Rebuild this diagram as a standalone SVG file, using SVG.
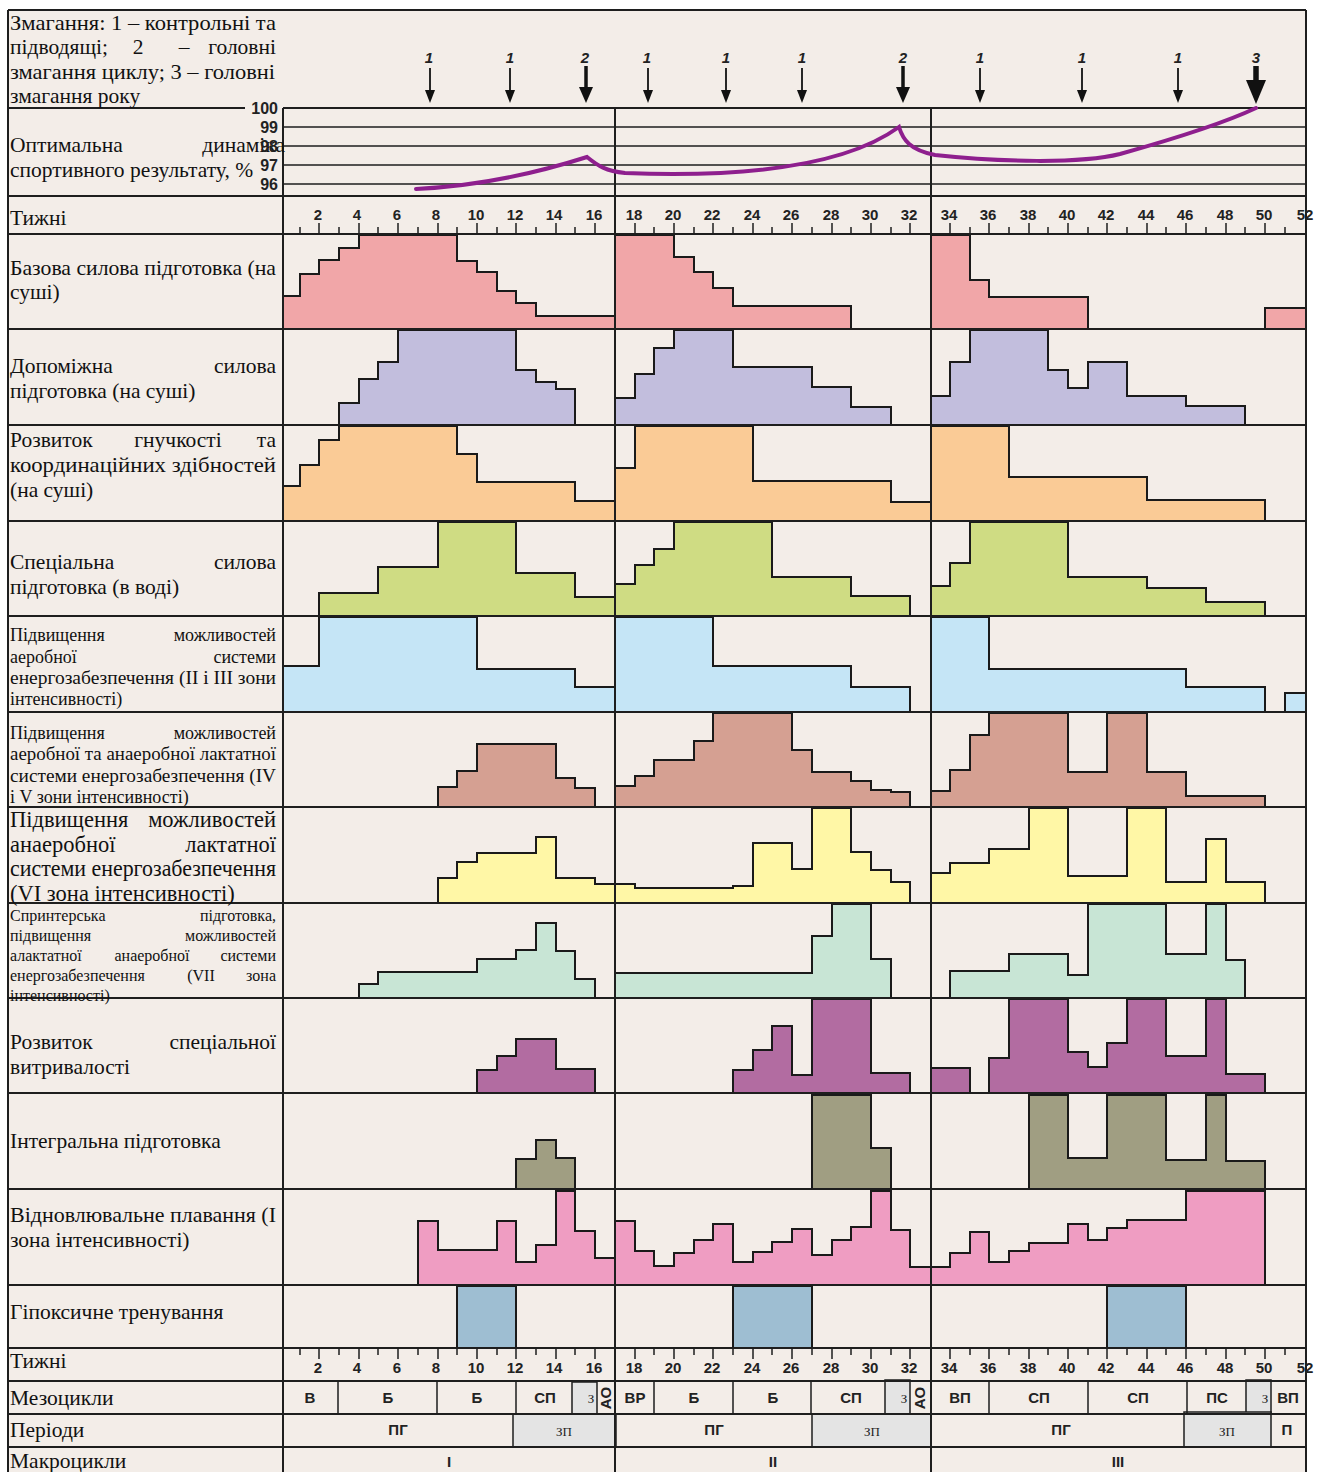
<svg xmlns="http://www.w3.org/2000/svg" width="1329" height="1472" viewBox="0 0 1329 1472">
<style>
.t{font-family:"Liberation Serif","Times New Roman",serif;font-size:21.5px;fill:#111}
.ts{font-size:18px}.tx{font-size:16px}.tl{font-size:22.5px}
.e{text-anchor:end}.m{text-anchor:middle}
.n{font-family:"Liberation Sans Narrow","Liberation Sans",Arial,sans-serif;font-weight:bold;font-size:15px;text-anchor:middle;fill:#222}
.yl{font-family:"Liberation Sans",Arial,sans-serif;font-weight:bold;font-size:16px;text-anchor:end;fill:#222}
.lb{font-family:"Liberation Sans",Arial,sans-serif;font-weight:bold;font-size:15px;text-anchor:middle;fill:#222}
.sm{font-family:"Liberation Serif","Times New Roman",serif;font-size:13px;text-anchor:middle;fill:#222}
.al{font-family:"Liberation Sans",Arial,sans-serif;font-weight:bold;font-style:italic;font-size:15px;text-anchor:middle;fill:#222}
.bar{stroke:#1a1a1a;stroke-width:2;stroke-linejoin:miter}
.grid{stroke:#1e1e1e;stroke-width:2;fill:none}
.thin{stroke:#1e1e1e;stroke-width:1.5;fill:none}
.grey{fill:#E4E4E4;stroke:#1e1e1e;stroke-width:1.5}
</style>
<defs>
<g id="a1"><line x1="0" y1="68" x2="0" y2="92" stroke="#111" stroke-width="1.8"/><polygon points="-5,90 5,90 0,103" fill="#111"/></g>
<g id="a2"><line x1="0" y1="66" x2="0" y2="90" stroke="#111" stroke-width="3.5"/><polygon points="-7,87 7,87 0,103" fill="#111"/></g>
<g id="a3"><line x1="0" y1="66" x2="0" y2="86" stroke="#111" stroke-width="5.5"/><polygon points="-10,80 10,80 0,104" fill="#111"/></g>
</defs>
<rect x="0" y="0" width="1329" height="1472" fill="#ffffff"/>
<rect x="8" y="10" width="1298" height="1462" fill="#F3EDE8"/>

<g id="bars">
<g id="row-bazova" fill="#F1A6A8">
<path class="bar" d="M283,329 V296 H300 V274 H319 V260 H339 V248 H359 V235 H457 V261 H477 V272 H497 V291 H516 V303 H536 V316 H615 V235 H674 V257 H694 V272 H713 V288 H733 V306 H851 V329 Z"/>
<path class="bar" d="M931,329 V235 H970 V280 H989 V297 H1088 V329 Z"/>
<path class="bar" d="M1265,329 V308 H1306 V329 Z"/>
</g>
<g id="row-dopomizhna" fill="#C2BEDD">
<path class="bar" d="M339,425 V403 H359 V379 H378 V362 H398 V330 H516 V370 H536 V382 H556 V389 H575 V425 Z"/>
<path class="bar" d="M615,425 V398 H635 V374 H654 V348 H674 V330 H733 V367 H812 V387 H851 V407 H891 V425 Z"/>
<path class="bar" d="M931,425 V396 H950 V362 H970 V330 H1048 V370 H1068 V388 H1088 V362 H1127 V396 H1186 V406 H1245 V425 Z"/>
</g>
<g id="row-gnuchkist" fill="#FACB96">
<path class="bar" d="M283,521 V486 H300 V465 H319 V440 H339 V426 H457 V454 H477 V482 H575 V501 H615 V468 H635 V426 H753 V481 H891 V502 H931 V426 H1009 V477 H1147 V500 H1265 V521 Z"/>
</g>
<g id="row-spec-sylova" fill="#CFDC83">
<path class="bar" d="M319,616 V593 H378 V567 H438 V522 H516 V573 H575 V597 H615 V584 H635 V565 H654 V549 H674 V522 H772 V577 H851 V596 H910 V616 Z"/>
<path class="bar" d="M931,616 V586 H950 V563 H970 V522 H1068 V577 H1147 V588 H1206 V602 H1265 V616 Z"/>
</g>
<g id="row-aerobna" fill="#C5E5F6">
<path class="bar" d="M283,712 V666 H319 V617 H477 V669 H575 V687 H615 V617 H713 V666 H851 V687 H910 V712 Z"/>
<path class="bar" d="M931,712 V617 H989 V669 H1186 V687 H1265 V712 Z"/>
<path class="bar" d="M1285,712 V693 H1306 V712 Z"/>
</g>
<g id="row-aer-anaer" fill="#D5A092">
<path class="bar" d="M438,807 V787 H457 V771 H477 V744 H556 V778 H575 V788 H595 V807 Z"/>
<path class="bar" d="M615,807 V786 H635 V776 H654 V760 H694 V741 H713 V713 H792 V750 H812 V772 H851 V781 H871 V790 H891 V792 H910 V807 Z"/>
<path class="bar" d="M931,807 V791 H950 V770 H970 V735 H989 V713 H1068 V772 H1107 V713 H1147 V772 H1186 V796 H1265 V807 Z"/>
</g>
<g id="row-anaer-lakt" fill="#FFF7A6">
<path class="bar" d="M438,903 V878 H457 V862 H477 V853 H536 V837 H556 V878 H595 V884 H635 V888 H733 V886 H753 V843 H792 V869 H812 V808 H851 V852 H871 V870 H891 V882 H910 V903 Z"/>
<path class="bar" d="M931,903 V873 H950 V863 H989 V849 H1029 V808 H1068 V876 H1127 V808 H1166 V882 H1206 V839 H1226 V882 H1265 V903 Z"/>
</g>
<g id="row-sprint" fill="#C8E5D5">
<path class="bar" d="M359,998 V984 H378 V972 H477 V959 H516 V950 H536 V923 H556 V951 H575 V979 H595 V998 Z"/>
<path class="bar" d="M615,998 V973 H812 V936 H832 V904 H871 V959 H891 V998 Z"/>
<path class="bar" d="M950,998 V971 H1009 V954 H1068 V975 H1088 V904 H1166 V954 H1206 V904 H1226 V960 H1245 V998 Z"/>
</g>
<g id="row-vytryvalist" fill="#B26CA1">
<path class="bar" d="M477,1093 V1070 H497 V1056 H516 V1039 H556 V1069 H595 V1093 Z"/>
<path class="bar" d="M733,1093 V1070 H753 V1050 H772 V1026 H792 V1075 H812 V999 H871 V1073 H910 V1093 Z"/>
<path class="bar" d="M931,1093 V1068 H970 V1093 Z"/>
<path class="bar" d="M989,1093 V1058 H1009 V999 H1068 V1052 H1088 V1067 H1107 V1043 H1127 V999 H1166 V1056 H1206 V999 H1226 V1074 H1265 V1093 Z"/>
</g>
<g id="row-integralna" fill="#A09E82">
<path class="bar" d="M516,1189 V1159 H536 V1140 H556 V1158 H575 V1189 Z"/>
<path class="bar" d="M812,1189 V1095 H871 V1148 H891 V1189 Z"/>
<path class="bar" d="M1029,1189 V1095 H1068 V1158 H1107 V1095 H1166 V1160 H1206 V1095 H1226 V1161 H1265 V1189 Z"/>
</g>
<g id="row-vidnovl" fill="#EF9DC2">
<path class="bar" d="M418,1285 V1221 H438 V1250 H497 V1221 H516 V1262 H536 V1245 H556 V1191 H575 V1231 H595 V1258 H615 V1221 H635 V1251 H654 V1266 H674 V1253 H694 V1240 H713 V1224 H733 V1262 H753 V1252 H772 V1242 H792 V1229 H812 V1255 H832 V1240 H851 V1227 H871 V1191 H891 V1230 H910 V1267 H950 V1253 H970 V1232 H989 V1262 H1009 V1251 H1029 V1243 H1068 V1224 H1088 V1240 H1107 V1228 H1127 V1220 H1186 V1191 H1265 V1285 Z"/>
</g>
<g id="row-hipoks" fill="#9EBED2">
<rect class="bar" x="457" y="1286" width="59" height="62"/>
<rect class="bar" x="733" y="1286" width="79" height="62"/>
<rect class="bar" x="1107" y="1286" width="79" height="62"/>
</g>
</g>

<g id="grey-boxes">
<rect class="grey" x="572" y="1382" width="25" height="32"/>
<rect class="grey" x="885" y="1380" width="25" height="34"/>
<rect class="grey" x="1246" y="1380" width="25" height="34"/>
<rect class="grey" x="513" y="1414" width="103" height="33"/>
<rect class="grey" x="812" y="1414" width="119" height="33"/>
<rect class="grey" x="1184" y="1412" width="87" height="35"/>
</g>

<g id="grid">
<path class="grid" d="M8,10 H1306 M8,10 V1472 M1306,10 V1472 M283,108 V1472 M8,108 H245 M283,108 H1306"/>
<path class="thin" d="M283,127 H1306 M283,146 H1306 M283,165 H1306 M283,184 H1306"/>
<path class="grid" d="M8,196 H1306 M8,234 H1306 M8,329 H1306 M8,425 H1306 M8,521 H1306 M8,616 H1306 M8,712 H1306 M8,807 H1306 M8,903 H1306 M8,998 H1306 M8,1093 H1306 M8,1189 H1306 M8,1285 H1306 M8,1348 H1306 M8,1381 H1306 M8,1414 H1306 M8,1447 H1306"/>
<path class="grid" d="M615,108 V1472 M931,108 V1472"/>
<path class="thin" d="M338,1381 V1414 M437,1381 V1414 M516,1381 V1414 M654,1381 V1414 M733,1381 V1414 M811,1381 V1414 M989,1381 V1414 M1088,1381 V1414 M1187,1381 V1414"/>
<path class="thin" d="M300,227V234M319,223V234M339,227V234M359,223V234M378,227V234M398,223V234M418,227V234M438,223V234M457,227V234M477,223V234M497,227V234M516,223V234M536,227V234M556,223V234M575,227V234M595,223V234M635,223V234M654,227V234M674,223V234M694,227V234M713,223V234M733,227V234M753,223V234M772,227V234M792,223V234M812,227V234M832,223V234M851,227V234M871,223V234M891,227V234M910,223V234M950,223V234M970,227V234M989,223V234M1009,227V234M1029,223V234M1048,227V234M1068,223V234M1088,227V234M1107,223V234M1127,227V234M1147,223V234M1166,227V234M1186,223V234M1206,227V234M1226,223V234M1245,227V234M1265,223V234M1285,227V234"/>
<path class="thin" d="M300,1348V1355M319,1348V1359M339,1348V1355M359,1348V1359M378,1348V1355M398,1348V1359M418,1348V1355M438,1348V1359M457,1348V1355M477,1348V1359M497,1348V1355M516,1348V1359M536,1348V1355M556,1348V1359M575,1348V1355M595,1348V1359M635,1348V1359M654,1348V1355M674,1348V1359M694,1348V1355M713,1348V1359M733,1348V1355M753,1348V1359M772,1348V1355M792,1348V1359M812,1348V1355M832,1348V1359M851,1348V1355M871,1348V1359M891,1348V1355M910,1348V1359M950,1348V1359M970,1348V1355M989,1348V1359M1009,1348V1355M1029,1348V1359M1048,1348V1355M1068,1348V1359M1088,1348V1355M1107,1348V1359M1127,1348V1355M1147,1348V1359M1166,1348V1355M1186,1348V1359M1206,1348V1355M1226,1348V1359M1245,1348V1355M1265,1348V1359M1285,1348V1355"/>
</g>

<g id="result-curve">
<path d="M416,189 C480,186 540,172 587,157 C598,166 606,171 625,173 C730,177 840,170 899,127 C903,140 910,150 935,155 C1000,162 1080,164 1120,154 C1170,140 1220,125 1256,108" fill="none" stroke="#8E1F8E" stroke-width="4" stroke-linecap="round"/>
</g>

<g id="competitions">
<use href="#a1" x="430"/><use href="#a1" x="510"/><use href="#a2" x="586"/><use href="#a1" x="648"/><use href="#a1" x="726"/><use href="#a1" x="802"/><use href="#a2" x="903"/><use href="#a1" x="980"/><use href="#a1" x="1082"/><use href="#a1" x="1178"/><use href="#a3" x="1256"/>
<text class="al" x="429" y="63">1</text><text class="al" x="510" y="63">1</text><text class="al" x="585" y="63">2</text><text class="al" x="647" y="63">1</text><text class="al" x="726" y="63">1</text><text class="al" x="802" y="63">1</text><text class="al" x="903" y="63">2</text><text class="al" x="980" y="63">1</text><text class="al" x="1082" y="63">1</text><text class="al" x="1178" y="63">1</text><text class="al" x="1256" y="63">3</text>
</g>

<g id="labels">
<text class="t" x="10" y="30" textLength="266" lengthAdjust="spacingAndGlyphs">Змагання: 1 – контрольні та</text>
<text class="t" x="10" y="54">підводящі;</text><text class="t m" x="138" y="54">2</text><text class="t m" x="184" y="54">–</text><text class="t e" x="276" y="54">головні</text>
<text class="t" x="10" y="79" textLength="265" lengthAdjust="spacingAndGlyphs">змагання циклу; 3 – головні</text>
<text class="t" x="10" y="103">змагання року</text>

<text class="t" x="10" y="152">Оптимальна</text><text class="t e" x="285" y="152">динаміка</text>
<text class="t" x="10" y="177">спортивного результату, %</text>
<text class="yl" x="278" y="114">100</text><text class="yl" x="278" y="133">99</text><text class="yl" x="278" y="152">98</text><text class="yl" x="278" y="171">97</text><text class="yl" x="278" y="190">96</text>

<text class="t" x="10" y="225">Тижні</text>
<text class="t" x="10" y="275" textLength="266" lengthAdjust="spacingAndGlyphs">Базова силова підготовка (на</text>
<text class="t" x="10" y="299">суші)</text>
<text class="t" x="10" y="373">Допоміжна</text><text class="t e" x="276" y="373">силова</text>
<text class="t" x="10" y="398">підготовка (на суші)</text>
<text class="t" x="10" y="447">Розвиток</text><text class="t m" x="178" y="447">гнучкості</text><text class="t e" x="276" y="447">та</text>
<text class="t" x="10" y="472" textLength="266" lengthAdjust="spacingAndGlyphs">координаційних здібностей</text>
<text class="t" x="10" y="497">(на суші)</text>
<text class="t" x="10" y="569">Спеціальна</text><text class="t e" x="276" y="569">силова</text>
<text class="t" x="10" y="594">підготовка (в воді)</text>

<text class="t ts" x="10" y="641">Підвищення</text><text class="t ts e" x="276" y="641">можливостей</text>
<text class="t ts" x="10" y="663">аеробної</text><text class="t ts e" x="276" y="663">системи</text>
<text class="t ts" x="10" y="684" textLength="266" lengthAdjust="spacingAndGlyphs">енергозабезпечення (II і III зони</text>
<text class="t ts" x="10" y="705">інтенсивності)</text>

<text class="t ts" x="10" y="739">Підвищення</text><text class="t ts e" x="276" y="739">можливостей</text>
<text class="t ts" x="10" y="760" textLength="266" lengthAdjust="spacingAndGlyphs">аеробної та анаеробної лактатної</text>
<text class="t ts" x="10" y="782" textLength="266" lengthAdjust="spacingAndGlyphs">системи енергозабезпечення (IV</text>
<text class="t ts" x="10" y="803">і V зони інтенсивності)</text>

<text class="t tl" x="10" y="827">Підвищення</text><text class="t tl e" x="276" y="827">можливостей</text>
<text class="t tl" x="10" y="852">анаеробної</text><text class="t tl e" x="276" y="852">лактатної</text>
<text class="t tl" x="10" y="876" textLength="266" lengthAdjust="spacingAndGlyphs">системи енергозабезпечення</text>
<text class="t tl" x="10" y="901">(VI зона інтенсивності)</text>

<text class="t tx" x="10" y="921">Спринтерська</text><text class="t tx e" x="276" y="921">підготовка,</text>
<text class="t tx" x="10" y="941">підвищення</text><text class="t tx e" x="276" y="941">можливостей</text>
<text class="t tx" x="10" y="961">алактатної</text><text class="t tx m" x="152" y="961">анаеробної</text><text class="t tx e" x="276" y="961">системи</text>
<text class="t tx" x="10" y="981">енергозабезпечення</text><text class="t tx m" x="201" y="981">(VII</text><text class="t tx e" x="276" y="981">зона</text>
<text class="t tx" x="10" y="1001">інтенсивності)</text>

<text class="t" x="10" y="1049">Розвиток</text><text class="t e" x="276" y="1049">спеціальної</text>
<text class="t" x="10" y="1074">витривалості</text>
<text class="t" x="10" y="1148">Інтегральна підготовка</text>
<text class="t" x="10" y="1222" textLength="266" lengthAdjust="spacingAndGlyphs">Відновлювальне плавання (I</text>
<text class="t" x="10" y="1247">зона інтенсивності)</text>
<text class="t" x="10" y="1319">Гіпоксичне тренування</text>
<text class="t" x="10" y="1368">Тижні</text>
<text class="t" x="10" y="1405">Мезоцикли</text>
<text class="t" x="10" y="1437">Періоди</text>
<text class="t" x="10" y="1468">Макроцикли</text>
</g>

<g id="weeks-top">
<text class="n" x="318" y="220">2</text><text class="n" x="357" y="220">4</text><text class="n" x="397" y="220">6</text><text class="n" x="436" y="220">8</text><text class="n" x="476" y="220">10</text><text class="n" x="515" y="220">12</text><text class="n" x="554" y="220">14</text><text class="n" x="594" y="220">16</text><text class="n" x="634" y="220">18</text><text class="n" x="673" y="220">20</text><text class="n" x="712" y="220">22</text><text class="n" x="752" y="220">24</text><text class="n" x="791" y="220">26</text><text class="n" x="831" y="220">28</text><text class="n" x="870" y="220">30</text><text class="n" x="909" y="220">32</text><text class="n" x="949" y="220">34</text><text class="n" x="988" y="220">36</text><text class="n" x="1028" y="220">38</text><text class="n" x="1067" y="220">40</text><text class="n" x="1106" y="220">42</text><text class="n" x="1146" y="220">44</text><text class="n" x="1185" y="220">46</text><text class="n" x="1225" y="220">48</text><text class="n" x="1264" y="220">50</text><text class="n" x="1305" y="220">52</text>
</g>
<g id="weeks-bottom">
<text class="n" x="318" y="1373">2</text><text class="n" x="357" y="1373">4</text><text class="n" x="397" y="1373">6</text><text class="n" x="436" y="1373">8</text><text class="n" x="476" y="1373">10</text><text class="n" x="515" y="1373">12</text><text class="n" x="554" y="1373">14</text><text class="n" x="594" y="1373">16</text><text class="n" x="634" y="1373">18</text><text class="n" x="673" y="1373">20</text><text class="n" x="712" y="1373">22</text><text class="n" x="752" y="1373">24</text><text class="n" x="791" y="1373">26</text><text class="n" x="831" y="1373">28</text><text class="n" x="870" y="1373">30</text><text class="n" x="909" y="1373">32</text><text class="n" x="949" y="1373">34</text><text class="n" x="988" y="1373">36</text><text class="n" x="1028" y="1373">38</text><text class="n" x="1067" y="1373">40</text><text class="n" x="1106" y="1373">42</text><text class="n" x="1146" y="1373">44</text><text class="n" x="1185" y="1373">46</text><text class="n" x="1225" y="1373">48</text><text class="n" x="1264" y="1373">50</text><text class="n" x="1305" y="1373">52</text>
</g>

<g id="mesocycles">
<text class="lb" x="310" y="1403">В</text><text class="lb" x="388" y="1403">Б</text><text class="lb" x="477" y="1403">Б</text><text class="lb" x="545" y="1403">СП</text><text class="sm" x="591" y="1403">З</text>
<text class="lb" transform="translate(611,1398) rotate(-90)" y="0">АО</text>
<text class="lb" x="635" y="1403">ВР</text><text class="lb" x="694" y="1403">Б</text><text class="lb" x="773" y="1403">Б</text><text class="lb" x="851" y="1403">СП</text><text class="sm" x="904" y="1403">З</text>
<text class="lb" transform="translate(925,1398) rotate(-90)" y="0">АО</text>
<text class="lb" x="960" y="1403">ВП</text><text class="lb" x="1039" y="1403">СП</text><text class="lb" x="1138" y="1403">СП</text><text class="lb" x="1217" y="1403">ПС</text><text class="sm" x="1265" y="1403">З</text><text class="lb" x="1288" y="1403">ВП</text>
</g>
<g id="periods">
<text class="lb" x="398" y="1435">ПГ</text><text class="sm" x="564" y="1436">ЗП</text>
<text class="lb" x="714" y="1435">ПГ</text><text class="sm" x="872" y="1436">ЗП</text>
<text class="lb" x="1061" y="1435">ПГ</text><text class="sm" x="1227" y="1436">ЗП</text><text class="lb" x="1287" y="1435">П</text>
</g>
<g id="macrocycles">
<text class="lb" x="449" y="1467">I</text><text class="lb" x="773" y="1467">II</text><text class="lb" x="1118" y="1467">III</text>
</g>
</svg>
